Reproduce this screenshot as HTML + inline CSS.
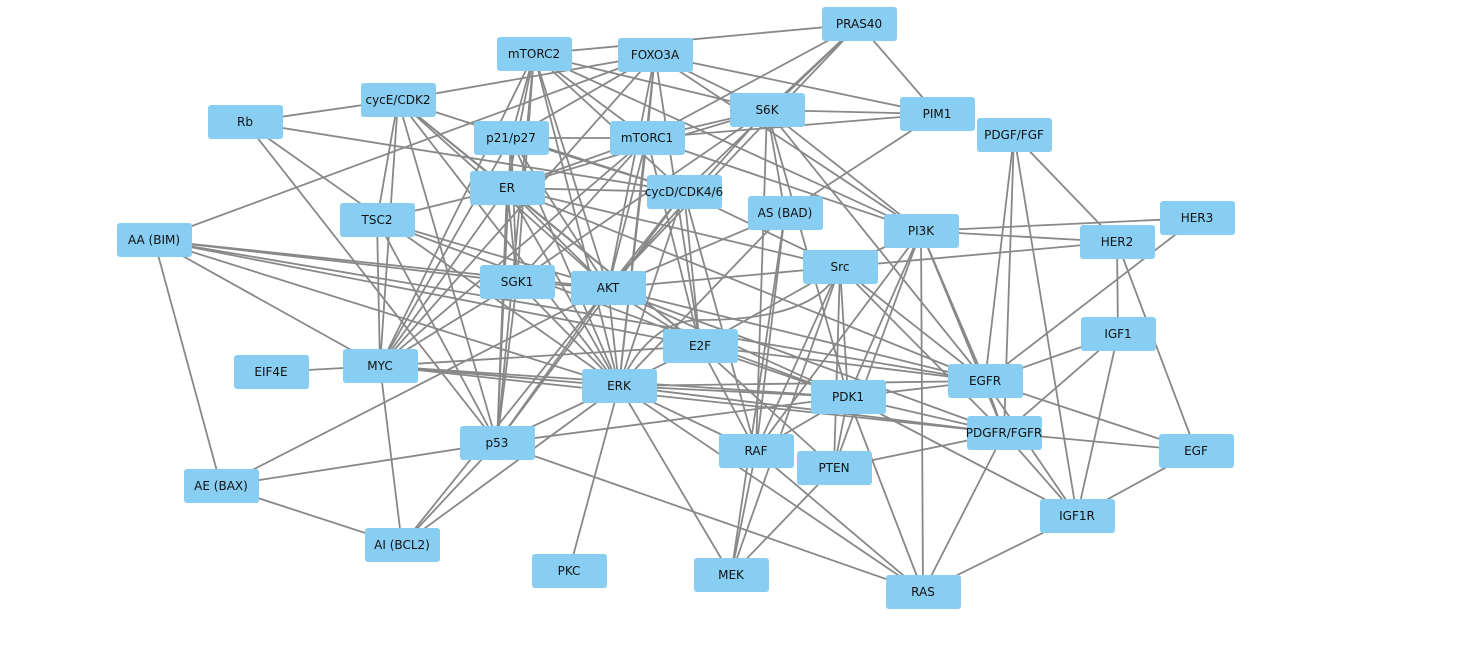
<!DOCTYPE html>
<html><head><meta charset="utf-8"><style>
html,body{margin:0;padding:0;background:#fff;width:1457px;height:654px;overflow:hidden}
svg{display:block}
text{font-family:"DejaVu Sans","Liberation Sans",sans-serif;font-size:12px;fill:#111;text-anchor:middle;dominant-baseline:central}
rect{fill:#87cef2}
line{stroke:#888;stroke-width:1.8}
</style></head><body>
<svg id="s" width="1457" height="654" xmlns="http://www.w3.org/2000/svg">
<g id="edges"></g>
<g id="nodes">
<rect x="822" y="7" width="75" height="34" rx="3"/><text x="859" y="24">PRAS40</text>
<rect x="497" y="37" width="75" height="34" rx="3"/><text x="534" y="54">mTORC2</text>
<rect x="618" y="38" width="75" height="34" rx="3"/><text x="655" y="55">FOXO3A</text>
<rect x="361" y="83" width="75" height="34" rx="3"/><text x="398" y="100">cycE/CDK2</text>
<rect x="208" y="105" width="75" height="34" rx="3"/><text x="245" y="122">Rb</text>
<rect x="730" y="93" width="75" height="34" rx="3"/><text x="767" y="110">S6K</text>
<rect x="900" y="97" width="75" height="34" rx="3"/><text x="937" y="114">PIM1</text>
<rect x="977" y="118" width="75" height="34" rx="3"/><text x="1014" y="135">PDGF/FGF</text>
<rect x="474" y="121" width="75" height="34" rx="3"/><text x="511" y="138">p21/p27</text>
<rect x="610" y="121" width="75" height="34" rx="3"/><text x="647" y="138">mTORC1</text>
<rect x="470" y="171" width="75" height="34" rx="3"/><text x="507" y="188">ER</text>
<rect x="647" y="175" width="75" height="34" rx="3"/><text x="684" y="192">cycD/CDK4/6</text>
<rect x="748" y="196" width="75" height="34" rx="3"/><text x="785" y="213">AS (BAD)</text>
<rect x="340" y="203" width="75" height="34" rx="3"/><text x="377" y="220">TSC2</text>
<rect x="117" y="223" width="75" height="34" rx="3"/><text x="154" y="240">AA (BIM)</text>
<rect x="884" y="214" width="75" height="34" rx="3"/><text x="921" y="231">PI3K</text>
<rect x="1160" y="201" width="75" height="34" rx="3"/><text x="1197" y="218">HER3</text>
<rect x="1080" y="225" width="75" height="34" rx="3"/><text x="1117" y="242">HER2</text>
<rect x="803" y="250" width="75" height="34" rx="3"/><text x="840" y="267">Src</text>
<rect x="480" y="265" width="75" height="34" rx="3"/><text x="517" y="282">SGK1</text>
<rect x="571" y="271" width="75" height="34" rx="3"/><text x="608" y="288">AKT</text>
<rect x="1081" y="317" width="75" height="34" rx="3"/><text x="1118" y="334">IGF1</text>
<rect x="663" y="329" width="75" height="34" rx="3"/><text x="700" y="346">E2F</text>
<rect x="234" y="355" width="75" height="34" rx="3"/><text x="271" y="372">EIF4E</text>
<rect x="343" y="349" width="75" height="34" rx="3"/><text x="380" y="366">MYC</text>
<rect x="948" y="364" width="75" height="34" rx="3"/><text x="985" y="381">EGFR</text>
<rect x="582" y="369" width="75" height="34" rx="3"/><text x="619" y="386">ERK</text>
<rect x="811" y="380" width="75" height="34" rx="3"/><text x="848" y="397">PDK1</text>
<rect x="967" y="416" width="75" height="34" rx="3"/><text x="1004" y="433">PDGFR/FGFR</text>
<rect x="460" y="426" width="75" height="34" rx="3"/><text x="497" y="443">p53</text>
<rect x="719" y="434" width="75" height="34" rx="3"/><text x="756" y="451">RAF</text>
<rect x="1159" y="434" width="75" height="34" rx="3"/><text x="1196" y="451">EGF</text>
<rect x="797" y="451" width="75" height="34" rx="3"/><text x="834" y="468">PTEN</text>
<rect x="184" y="469" width="75" height="34" rx="3"/><text x="221" y="486">AE (BAX)</text>
<rect x="1040" y="499" width="75" height="34" rx="3"/><text x="1077" y="516">IGF1R</text>
<rect x="365" y="528" width="75" height="34" rx="3"/><text x="402" y="545">AI (BCL2)</text>
<rect x="532" y="554" width="75" height="34" rx="3"/><text x="569" y="571">PKC</text>
<rect x="694" y="558" width="75" height="34" rx="3"/><text x="731" y="575">MEK</text>
<rect x="886" y="575" width="75" height="34" rx="3"/><text x="923" y="592">RAS</text>
</g>
</svg>
<script>
var P={PRAS40:[859,24],mTORC2:[534,54],FOXO3A:[655,55],cycE:[398,100],Rb:[245,122],S6K:[767,110],PIM1:[937,114],PDGF:[1014,135],p21:[511,138],mTORC1:[647,138],ER:[507,188],cycD:[684,192],AS:[785,213],TSC2:[377,220],AA:[154,240],PI3K:[921,231],HER3:[1197,218],HER2:[1117,242],Src:[840,267],SGK1:[517,282],AKT:[608,288],IGF1:[1118,334],E2F:[700,346],EIF4E:[271,372],MYC:[380,366],EGFR:[985,381],ERK:[619,386],PDK1:[848,397],PDGFR:[1004,433],p53:[497,443],RAF:[756,451],EGF:[1196,451],PTEN:[834,468],AE:[221,486],IGF1R:[1077,516],AI:[402,545],PKC:[569,571],MEK:[731,575],RAS:[923,592]};
var E="PRAS40-mTORC2 PRAS40-PIM1 PRAS40-mTORC1 PRAS40-S6K PRAS40-AKT PRAS40-cycD mTORC2-S6K mTORC2-mTORC1 mTORC2-p21 mTORC2-ER mTORC2-AKT mTORC2-SGK1 mTORC2-MYC mTORC2-p53 mTORC2-PI3K mTORC2-ERK mTORC2-cycD FOXO3A-cycE FOXO3A-AA FOXO3A-PIM1 FOXO3A-S6K FOXO3A-p21 FOXO3A-mTORC1 FOXO3A-AKT FOXO3A-ERK FOXO3A-E2F FOXO3A-PI3K FOXO3A-MYC cycE-Rb cycE-TSC2 cycE-MYC cycE-p53 cycE-ER cycE-AKT cycE-ERK cycE-E2F cycE-cycD Rb-cycD Rb-p53 Rb-ERK S6K-PIM1 S6K-mTORC1 S6K-ER S6K-AKT S6K-SGK1 S6K-PI3K S6K-EGFR S6K-AS S6K-PDK1 S6K-RAF PIM1-mTORC1 PIM1-AS p21-mTORC1 p21-ERK p21-AKT p21-cycD p21-MYC p21-p53 p21-SGK1 mTORC1-ER mTORC1-AKT mTORC1-SGK1 mTORC1-ERK mTORC1-PI3K mTORC1-E2F mTORC1-MYC ER-TSC2 ER-cycD ER-AKT ER-ERK ER-Src ER-MYC ER-SGK1 ER-p53 ER-E2F ER-EGFR cycD-AKT cycD-ERK cycD-E2F cycD-Src cycD-p53 cycD-RAF AS-AKT AS-ERK AS-MEK AS-RAF TSC2-AKT TSC2-p53 TSC2-MYC TSC2-PDK1 AA-AKT AA-ERK AA-E2F AA-MYC AA-AE AA-SGK1 AA-EGFR PI3K-Src PI3K-HER3 PI3K-HER2 PI3K-EGFR PI3K-PDK1 PI3K-RAS PI3K-RAF PI3K-PDGFR PI3K-PTEN HER3-EGFR HER2-Src HER2-IGF1 HER2-EGF PDGF-HER2 PDGF-EGFR PDGF-PDGFR PDGF-IGF1R Src-AKT Src-PDK1 Src-EGFR Src-PDGFR Src-PTEN Src-MEK Src-RAF Src-E2F SGK1-AKT SGK1-ERK SGK1-p53 SGK1-MYC AKT-E2F AKT-ERK AKT-PDK1 AKT-EGFR AKT-AE AKT-AI AKT-p53 AKT-PDGFR IGF1-EGFR IGF1-PDGFR IGF1-IGF1R E2F-MYC E2F-ERK E2F-PDK1 E2F-RAF E2F-PTEN E2F-EGFR EIF4E-MYC MYC-ERK MYC-AI MYC-PDK1 MYC-PDGFR EGFR-ERK EGFR-PDK1 EGFR-PDGFR EGFR-EGF EGFR-IGF1R ERK-PDK1 ERK-p53 ERK-PKC ERK-MEK ERK-RAF ERK-PDGFR ERK-AI ERK-RAS PDK1-PDGFR PDK1-p53 PDK1-PTEN PDK1-RAS PDK1-IGF1R PDK1-RAF PDGFR-EGF PDGFR-PTEN PDGFR-RAS PDGFR-IGF1R p53-AE p53-RAS p53-AI RAF-MEK RAF-RAS PTEN-MEK EGF-IGF1R IGF1R-RAS AE-AI".split(" ");
var g=document.getElementById("edges"),ns="http://www.w3.org/2000/svg";
E.forEach(function(e){var a=e.split("-"),p=P[a[0]],q=P[a[1]];if(!p||!q)return;var l=document.createElementNS(ns,"line");l.setAttribute("x1",p[0]);l.setAttribute("y1",p[1]);l.setAttribute("x2",q[0]);l.setAttribute("y2",q[1]);g.appendChild(l);});
var c=document.createElementNS(ns,"path");c.setAttribute("d","M840 267 Q820 320 700 320 Q650 320 619 386");c.setAttribute("fill","none");c.setAttribute("stroke","#888");c.setAttribute("stroke-width","1.8");g.appendChild(c);
</script>
</body></html>
